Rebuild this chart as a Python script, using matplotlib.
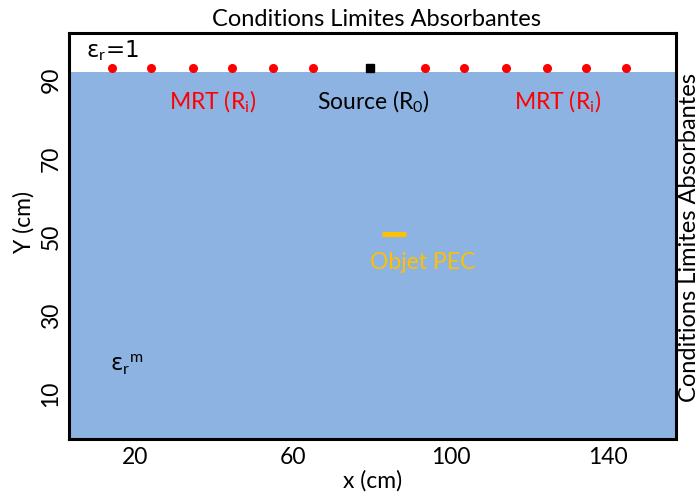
import numpy as np
import matplotlib.pyplot as plt

plt.rcParams['font.family'] = ['Lato', 'DejaVu Sans']
plt.rcParams['mathtext.fontset'] = 'custom'
plt.rcParams['mathtext.rm'] = 'Lato'
plt.rcParams['mathtext.it'] = 'Lato'

# data
x_ticks = [20, 60, 100, 140]
y_ticks = [10, 30, 50, 70, 90]
mrt_x = [14, 24, 34.5, 44.5, 55, 65, 93.5, 103.5, 114, 124.5, 134.5, 144.5]
mrt_y = 93
source_x = 79.5
source_y = 93
surface_y = 92
pec_x = [82.5, 88.6]
pec_y = 50.7

xmin, xmax = 3, 157.3
ymin, ymax = -1.4, 101.9

fig = plt.figure(figsize=(6.99, 4.92), dpi=100)
ax = fig.add_axes([68.5/699, 1-439/492, (676-68.5)/699, (439-33)/492])

ax.fill_between([xmin, xmax], ymin, surface_y, color='#8DB3E2', lw=0, zorder=0)
ax.plot(mrt_x, [mrt_y]*len(mrt_x), ls='none', marker='o', ms=5.5, color='#FF0000')
ax.plot([source_x], [source_y], ls='none', marker='s', ms=5.5, color='black')
ax.plot(pec_x, [pec_y, pec_y], color='#FFC000', lw=3.6, solid_capstyle='butt')

ax.set_xlim(xmin, xmax)
ax.set_ylim(ymin, ymax)
ax.set_xticks(x_ticks)
ax.set_yticks(y_ticks)
ax.tick_params(length=0, labelsize=16.5)
ax.tick_params(axis='x', pad=6)
ax.tick_params(axis='y', pad=5)
for lab in ax.get_yticklabels():
    lab.set_rotation(90)
    lab.set_va('center')
for s in ax.spines.values():
    s.set_linewidth(2.2)

fs = 16.5
ax.text(39.6, 84.3, 'MRT (R$_\\mathrm{i}$)', color='#FF0000', fontsize=fs, ha='center', va='center')
ax.text(127.2, 84.3, 'MRT (R$_\\mathrm{i}$)', color='#FF0000', fontsize=fs, ha='center', va='center')
ax.text(80.4, 84.3, 'Source (R$_\\mathrm{0}$)', color='black', fontsize=fs, ha='center', va='center')
ax.text(92.9, 43.6, 'Objet PEC', color='#FFC000', fontsize=fs, ha='center', va='center')
ax.text(7.4, 97.5, 'ε$_\\mathrm{r}$=1', fontsize=fs, ha='left', va='center', family=['DejaVu Sans'])
ax.text(13.6, 17.4, 'ε$_\\mathrm{r}$$^\\mathrm{m}$', fontsize=fs, ha='left', va='center', family=['DejaVu Sans'])

fig.text(376/699, 1-19/492, 'Conditions Limites Absorbantes', fontsize=17, ha='center', va='center')
fig.text(690/699, 1-237/492, 'Conditions Limites Absorbantes', fontsize=17, ha='center', va='center', rotation=90)
fig.text(24/699, 1-222/492, 'Y (cm)', fontsize=fs, ha='center', va='center', rotation=90)
fig.text(373/699, 1-481/492, 'x (cm)', fontsize=fs, ha='center', va='center')

fig.savefig('out.png', dpi=100)
